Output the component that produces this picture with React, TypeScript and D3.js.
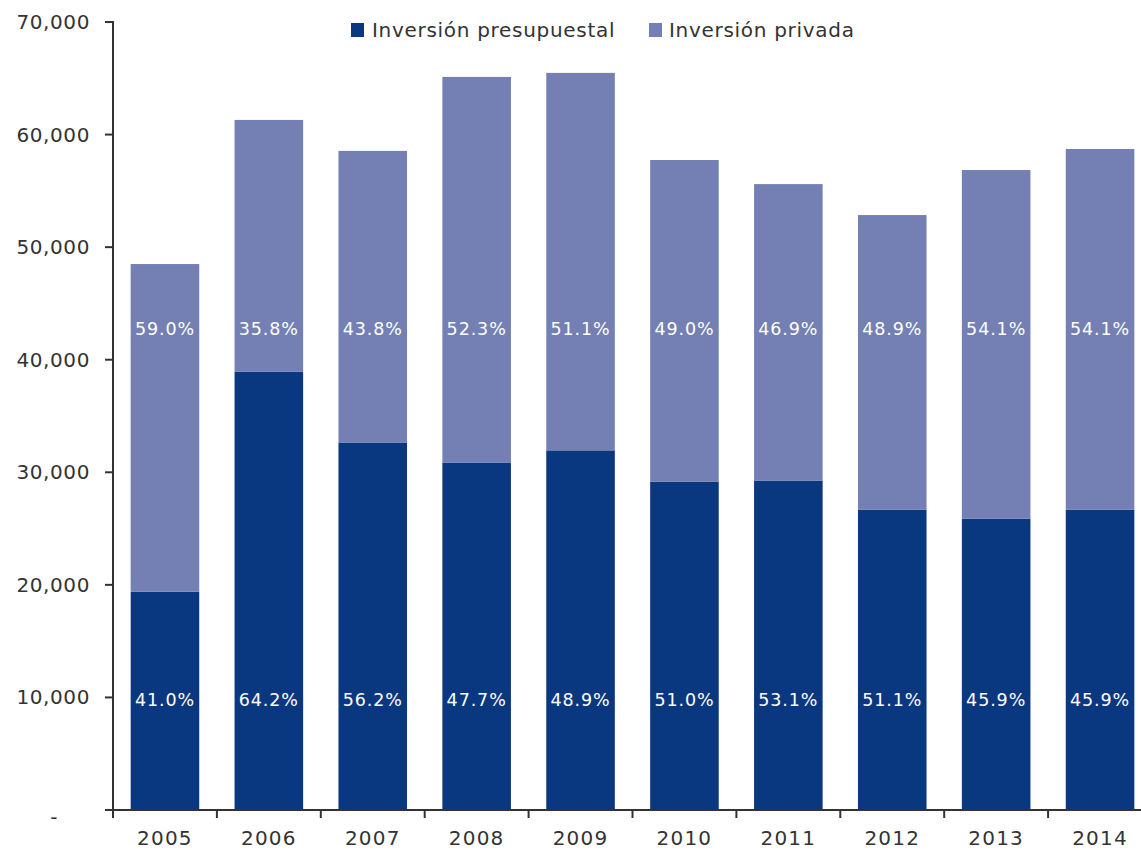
import React from "react";
import * as d3 from "d3";

const years = ["2005","2006","2007","2008","2009","2010","2011","2012","2013","2014"];
const budget = [19400, 38950, 32650, 30870, 31950, 29180, 29270, 26690, 25890, 26690];
const privateInv = [29100, 22350, 25900, 34250, 33530, 28560, 26330, 26160, 30960, 32030];
const budgetPct = ["41.0%","64.2%","56.2%","47.7%","48.9%","51.0%","53.1%","51.1%","45.9%","45.9%"];
const privatePct = ["59.0%","35.8%","43.8%","52.3%","51.1%","49.0%","46.9%","48.9%","54.1%","54.1%"];
const yTicks = [0, 10000, 20000, 30000, 40000, 50000, 60000, 70000];
const seriesNames = ["Inversión presupuestal", "Inversión privada"];

const DARK = "#0a3880";
const LIGHT = "#7480b3";
const TEXT = "#333333";
const FONT = "'DejaVu Sans', sans-serif";

export default function App() {
  const W = 1141, H = 850;
  const x0 = 113, yTop = 22, yBot = 810;
  const step = 103.9;
  const x = d3.scaleBand().domain(years).range([x0, x0 + step * years.length]).paddingInner(0.34).paddingOuter(0.17);
  const y = d3.scaleLinear().domain([0, 70000]).range([yBot, yTop]);
  const fmt = d3.format(",");
  return (
    <svg width={W} height={H} style={{ position: "absolute", left: 0, top: 0 }} fontFamily={FONT}>
      {years.map((yr, i) => {
        const bx = x(yr)!;
        const bw = x.bandwidth();
        const cx = bx + bw / 2;
        return (
          <g key={yr}>
            <rect x={bx} y={y(budget[i])} width={bw} height={yBot - y(budget[i])} fill={DARK} />
            <rect x={bx} y={y(budget[i] + privateInv[i])} width={bw} height={y(budget[i]) - y(budget[i] + privateInv[i])} fill={LIGHT} />
            <text x={cx} y={y(9800)} dy="0.35em" textAnchor="middle" fill="#fff" fontSize={17.5} letterSpacing={0.9}>{budgetPct[i]}</text>
            <text x={cx} y={y(42700)} dy="0.35em" textAnchor="middle" fill="#fff" fontSize={17.5} letterSpacing={0.9}>{privatePct[i]}</text>
          </g>
        );
      })}
      {/* y axis */}
      <line x1={x0} x2={x0} y1={yTop - 1} y2={yBot} stroke={TEXT} strokeWidth={2} />
      {yTicks.map((t) => (
        <g key={t}>
          <line x1={x0 - 8} x2={x0} y1={y(t)} y2={y(t)} stroke={TEXT} strokeWidth={2} />
          <text x={t === 0 ? 58 : 90} y={y(t) + (t === 0 ? 7 : 0)} dy="0.35em" textAnchor="end" fill={TEXT} fontSize={20} letterSpacing={0.6}>{t === 0 ? "-" : fmt(t)}</text>
        </g>
      ))}
      {/* x axis */}
      <line x1={x0 - 8} x2={W} y1={yBot} y2={yBot} stroke={TEXT} strokeWidth={2} />
      {years.map((yr, i) => (
        <line key={"t" + yr} x1={x0 + step * i} x2={x0 + step * i} y1={yBot} y2={yBot + 8} stroke={TEXT} strokeWidth={2} />
      ))}
      {years.map((yr) => (
        <text key={"l" + yr} x={x(yr)! + x.bandwidth() / 2} y={838} dy="0.35em" textAnchor="middle" fill={TEXT} fontSize={20} letterSpacing={1.2}>{yr}</text>
      ))}
      {/* legend */}
      <rect x={351} y={23} width={13} height={14} fill={DARK} />
      <text x={372} y={30} dy="0.35em" fill={TEXT} fontSize={20} letterSpacing={0.7}>{seriesNames[0]}</text>
      <rect x={649} y={23} width={13} height={14} fill={LIGHT} />
      <text x={669} y={30} dy="0.35em" fill={TEXT} fontSize={20} letterSpacing={0.7}>{seriesNames[1]}</text>
    </svg>
  );
}
